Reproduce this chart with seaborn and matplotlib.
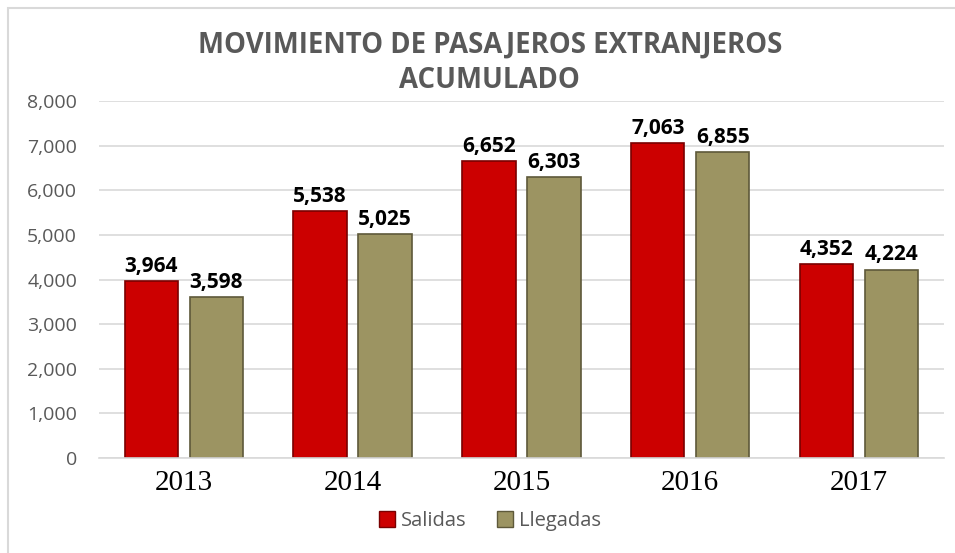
import pandas as pd
import seaborn as sns
import matplotlib.pyplot as plt
from matplotlib.patches import Rectangle

# Data
years = ['2013', '2014', '2015', '2016', '2017']
salidas = [3964, 5538, 6652, 7063, 4352]
llegadas = [3598, 5025, 6303, 6855, 4224]
series_names = ['Salidas', 'Llegadas']

df = pd.DataFrame({
    'year': years * 2,
    'value': salidas + llegadas,
    'serie': [series_names[0]] * len(years) + [series_names[1]] * len(years),
})

sns.set_theme(style='white')
plt.rcParams['font.family'] = ['Open Sans', 'DejaVu Sans']

fig = plt.figure(figsize=(9.55, 5.53), dpi=100)
ax = fig.add_axes([0.104, 0.172, 0.884, 0.645])

palette = {'Salidas': '#cc0000', 'Llegadas': '#9c9462'}
sns.barplot(data=df, x='year', y='value', hue='serie', palette=palette,
            width=0.77, gap=0.18, saturation=1, ax=ax, legend=False)

edge_colors = ['#7a0000', '#5e593a']
for cont, ec in zip(ax.containers, edge_colors):
    for bar in cont:
        bar.set_edgecolor(ec)
        bar.set_linewidth(1.2)
    ax.bar_label(cont, labels=[f'{v:,.0f}' for v in cont.datavalues],
                 padding=3, fontsize=15, fontweight='bold', color='black',
                 family='Open Sans')

ax.set_ylim(0, 8000)
ax.set_yticks(range(0, 8001, 1000))
ax.set_yticklabels([f'{v:,}' for v in range(0, 8001, 1000)],
                   fontsize=14, color='#595959')
ax.set_xticks(range(len(years)))
ax.set_xticklabels(years, fontsize=21, family='Liberation Serif', color='black')
ax.tick_params(axis='y', length=0, pad=16)
ax.tick_params(axis='x', length=0, pad=9)
ax.set_xlabel('')
ax.set_ylabel('')

ax.yaxis.grid(True, color='#d9d9d9', linewidth=1.2)
ax.set_axisbelow(True)
for side in ['top', 'right', 'left']:
    ax.spines[side].set_visible(False)
ax.spines['bottom'].set_color('#d9d9d9')
ax.spines['bottom'].set_linewidth(1.2)

fig.text(0.513, 0.918, 'MOVIMIENTO DE PASAJEROS EXTRANJEROS', ha='center',
         va='center', fontsize=19.8, fontweight='bold', color='#595959')
fig.text(0.513, 0.855, 'ACUMULADO', ha='center', va='center', fontsize=19.8,
         fontweight='bold', color='#595959')

handles = [Rectangle((0, 0), 1, 1, facecolor=palette[s], edgecolor=ec, linewidth=1)
           for s, ec in zip(series_names, edge_colors)]
fig.legend(handles, series_names, loc='center', bbox_to_anchor=(0.513, 0.058),
           ncol=2, frameon=False, fontsize=14.5, handlelength=0.8, handleheight=0.8,
           handletextpad=0.3, columnspacing=1.5, labelcolor='#595959')

# light frame around the chart area
fig.patches.append(Rectangle((8 / 955, -0.05), 1.2, 1 - 8 / 553 + 0.05,
                             transform=fig.transFigure, fill=False,
                             edgecolor='#d9d9d9', linewidth=1.5))

fig.savefig('out.png', dpi=100)
